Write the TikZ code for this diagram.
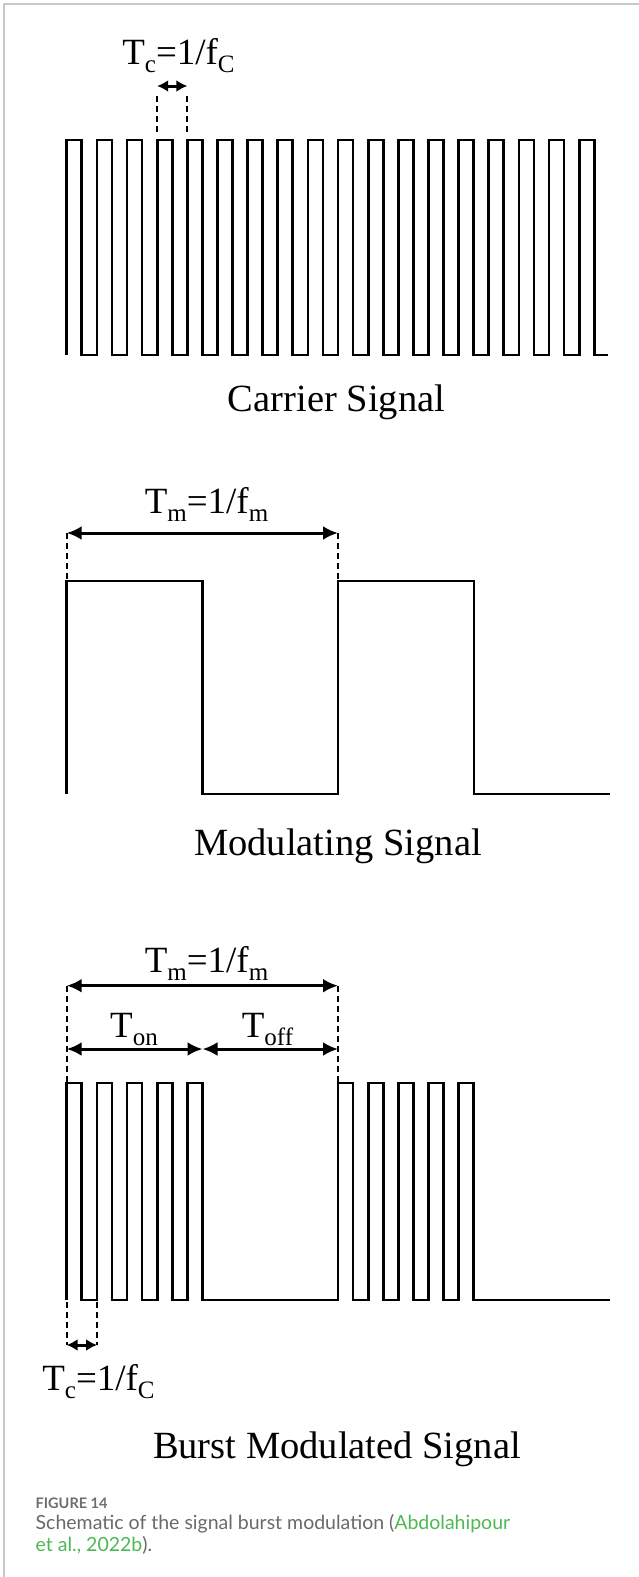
\documentclass[tikz,border=0pt]{standalone}
\usepackage{fontspec}
\setmainfont{Liberation Serif}
\newfontfamily\capfont{Lato}
\usetikzlibrary{arrows.meta}
\definecolor{capgray}{RGB}{105,105,105}
\definecolor{figgray}{RGB}{110,110,110}
\definecolor{capgreen}{RGB}{78,184,82}
\definecolor{bordergray}{RGB}{200,200,200}
\newcommand\sbx[1]{\raisebox{-8pt}{\fontsize{25}{25}\selectfont #1}}
\tikzset{
  sig/.style={line width=2.7pt, line join=miter, line cap=butt},
  guide/.style={line width=2pt, dash pattern=on 6pt off 4pt},
  dimbig/.style={line width=3pt, {Latex[length=15pt,width=14pt]}-{Latex[length=15pt,width=14pt]}},
  dimsmall/.style={line width=3pt, {Latex[length=11pt,width=12pt]}-{Latex[length=11pt,width=12pt]}},
  lbl/.style={anchor=base, inner sep=0pt, font=\fontsize{37}{37}\selectfont},
  ttl/.style={anchor=base, inner sep=0pt, font=\fontsize{38.5}{38.5}\selectfont},
  captext/.style={anchor=base west, inner sep=0pt, text=capgray, font=\capfont\fontsize{19.5}{19.5}\selectfont},
}
\begin{document}
\begin{tikzpicture}[x=1pt,y=-1pt]
\useasboundingbox (0,0) rectangle (639,1577);
% frame lines
\draw[bordergray, line width=1.5pt] (4,1577) -- (4,4) -- (639,4);

% ---------- Carrier signal ----------
\draw[sig] (66.7,355) foreach \k in {1,...,17} { -- ++(0,-215) -- ++(15,0) -- ++(0,215) -- ++(15.15,0) }
  -- ++(0,-215) -- ++(15,0) -- ++(0,215) -- ++(14,0);
\coordinate (tcA) at (157.2,86);
\coordinate (tcB) at (187.3,86);
\coordinate (tcAd) at (157.2,132);
\coordinate (tcBd) at (187.3,132);
\draw[guide] (tcA) ++(0,10) -- (tcAd);
\draw[guide] (tcB) ++(0,10) -- (tcBd);
\draw[dimsmall] (tcA) -- (tcB);
\node[lbl] (tclbl) at (178.5,64) {T\sbx{c}=1/f\sbx{C}};
\node[ttl] (carrier) at (336.5,411.7) {Carrier Signal};

% ---------- Modulating signal ----------
\draw[sig] (66.7,794) -- (66.7,581) -- (202.5,581) -- (202.5,794) -- (338,794) -- (338,581) -- (474,581) -- (474,794) -- (610,794);
\coordinate (tmA) at (66.7,533);
\coordinate (tmB) at (338,533);
\coordinate (tmAd) at (66.7,581);
\coordinate (tmBd) at (338,581);
\draw[guide] (tmA) -- (tmAd);
\draw[guide] (tmB) -- (tmBd);
\draw[dimbig] (tmA) -- (tmB);
\node[lbl] (tmlbl) at (206.5,513) {T\sbx{m}=1/f\sbx{m}};
\node[ttl] (modulating) at (338,855) {Modulating Signal};

% ---------- Burst modulated signal ----------
\draw[sig] (66.7,1300) foreach \k in {1,...,4} { -- ++(0,-217) -- ++(15,0) -- ++(0,217) -- ++(15.15,0) }
  -- ++(0,-217) -- ++(15,0) -- ++(0,217) -- (338,1300)
  foreach \k in {1,...,4} { -- ++(0,-217) -- ++(15,0) -- ++(0,217) -- ++(15.15,0) }
  -- ++(0,-217) -- ++(15,0) -- ++(0,217) -- (610,1300);
\coordinate (bmA) at (66.7,985.7);
\coordinate (bmB) at (338,985.7);
\coordinate (bonA) at (66.7,1049);
\coordinate (bonB) at (202.5,1049);
\coordinate (boffB) at (338,1049);
\coordinate (bAd) at (66.7,1083);
\coordinate (bBd) at (338,1083);
\draw[guide] (bmA) -- (bAd);
\draw[guide] (bmB) -- (bBd);
\draw[dimbig] (bmA) -- (bmB);
\draw[dimbig] (bonA) -- (bonB);
\draw[dimbig] (bonB) -- (boffB);
\node[lbl] (bmlbl) at (206.5,972) {T\sbx{m}=1/f\sbx{m}};
\node[lbl] (tonlbl) at (134,1037) {T\sbx{on}};
\node[lbl] (tofflbl) at (267.5,1037) {T\sbx{off}};
\coordinate (btA) at (66.7,1345);
\coordinate (btB) at (97,1345);
\coordinate (btAd) at (66.7,1302);
\coordinate (btBd) at (97,1302);
\draw[guide] (btAd) -- (btA);
\draw[guide] (btBd) -- (btB);
\draw[dimsmall] (btA) -- (btB);
\node[lbl] (btlbl) at (98.5,1390) {T\sbx{c}=1/f\sbx{C}};
\node[ttl] (burst) at (337,1458) {Burst Modulated Signal};

% ---------- Caption ----------
\node[captext, font=\capfont\bfseries\fontsize{14.5}{14.5}\selectfont, text=figgray] (fig) at (35.5,1508.3) {FIGURE 14};
\node[captext] (cap1) at (35.5,1529) {Schematic of the signal burst modulation (\textcolor{capgreen}{Abdolahipour}};
\node[captext] (cap2) at (35.5,1551) {\textcolor{capgreen}{et al., 2022b}).};
\end{tikzpicture}
\end{document}
